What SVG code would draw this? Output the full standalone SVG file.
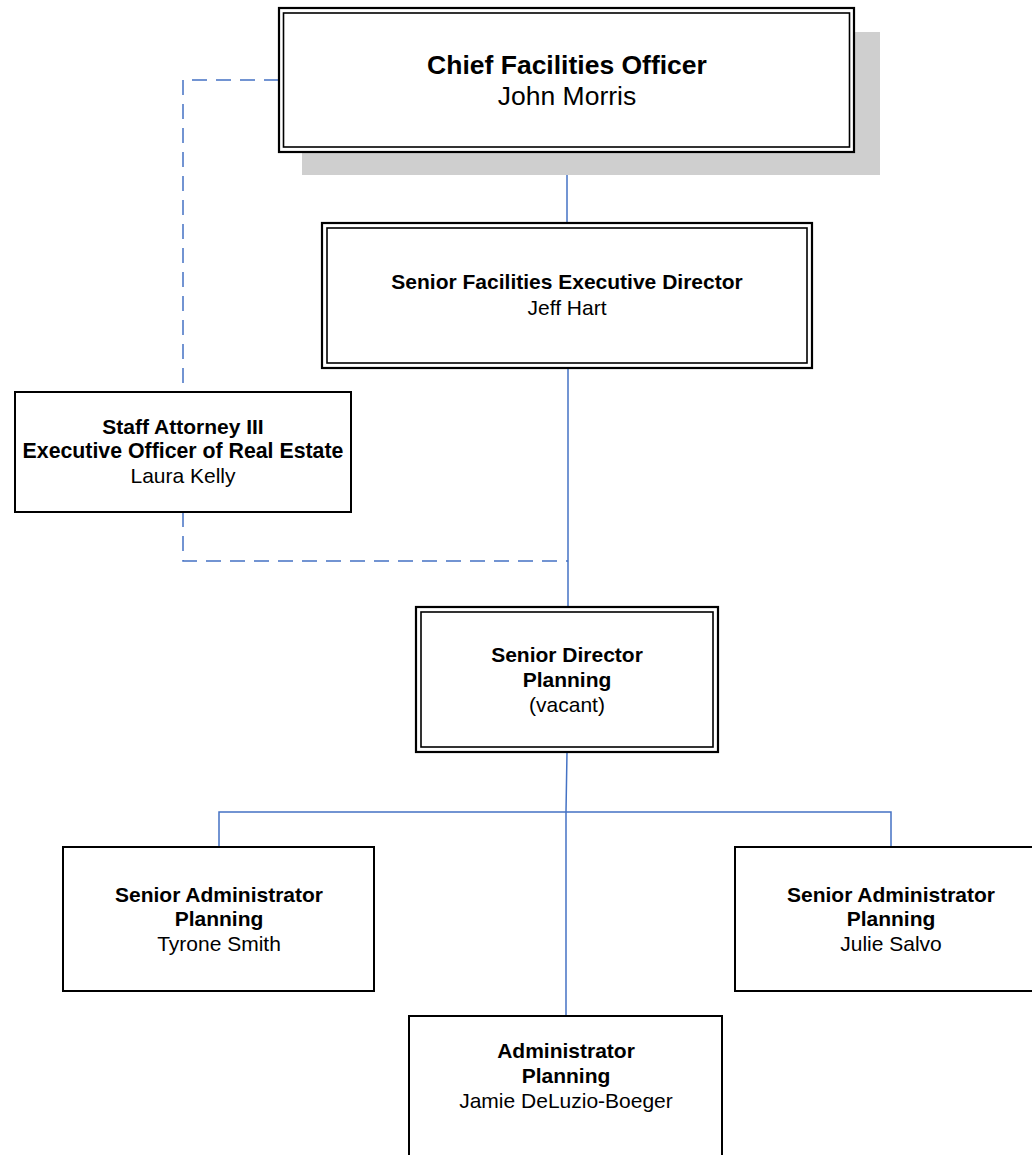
<svg xmlns="http://www.w3.org/2000/svg" width="1032" height="1155" viewBox="0 0 1032 1155">
  <style>
    .t { font-family: "Liberation Sans", Arial, sans-serif; fill: #000; text-anchor: middle; }
    .b { font-weight: bold; }
    .s21 { font-size: 21px; }
    .s26 { font-size: 26.5px; }
    .outer { fill: #fff; stroke: #000; stroke-width: 2.2; }
    .inner { fill: none; stroke: #000; stroke-width: 1.6; }
    .box { fill: #fff; stroke: #000; stroke-width: 2; }
    .solid { fill: none; stroke: #4472c4; stroke-width: 1.5; }
    .dash { fill: none; stroke: #4472c4; stroke-width: 1.5; stroke-dasharray: 15 9; }
  </style>
  <rect width="1032" height="1155" fill="#fff"/>
  <g id="connectors">
    <path class="solid" d="M567 152 V223"/>
    <path class="solid" d="M568 368 V607"/>
    <path class="dash" d="M279 80 H183 V392"/>
    <path class="dash" d="M183 512 V561 H568"/>
    <path class="solid" d="M567 752 L566 812 V1016"/>
    <path class="solid" d="M219 847 V812 H891 V847"/>
  </g>
  <g id="chief-facilities-officer">
    <rect x="302" y="32" width="578" height="143" fill="#cfcfcf"/>
    <rect class="outer" x="279" y="8" width="575" height="144"/>
    <rect class="inner" x="283.5" y="13" width="566" height="134"/>
    <text class="t b s26" x="567" y="74">Chief Facilities Officer</text>
    <text class="t s26" x="567" y="105">John Morris</text>
  </g>
  <g id="senior-facilities-executive-director">
    <rect class="outer" x="322" y="223" width="490" height="145"/>
    <rect class="inner" x="327" y="228" width="480" height="135"/>
    <text class="t b s21" x="567" y="289">Senior Facilities Executive Director</text>
    <text class="t s21" x="567" y="315">Jeff Hart</text>
  </g>
  <g id="staff-attorney">
    <rect class="box" x="15" y="392" width="336" height="120"/>
    <text class="t b s21" x="183" y="434">Staff Attorney III</text>
    <text class="t b s21" x="183" y="458" style="font-size:21.3px">Executive Officer of Real Estate</text>
    <text class="t s21" x="183" y="483">Laura Kelly</text>
  </g>
  <g id="senior-director-planning">
    <rect class="outer" x="416" y="607" width="302" height="145"/>
    <rect class="inner" x="421" y="612" width="292" height="135"/>
    <text class="t b s21" x="567" y="662">Senior Director</text>
    <text class="t b s21" x="567" y="687">Planning</text>
    <text class="t s21" x="567" y="712">(vacant)</text>
  </g>
  <g id="senior-administrator-tyrone">
    <rect class="box" x="63" y="847" width="311" height="144"/>
    <text class="t b s21" x="219" y="902">Senior Administrator</text>
    <text class="t b s21" x="219" y="926">Planning</text>
    <text class="t s21" x="219" y="951">Tyrone Smith</text>
  </g>
  <g id="senior-administrator-julie">
    <rect class="box" x="735" y="847" width="312" height="144"/>
    <text class="t b s21" x="891" y="902">Senior Administrator</text>
    <text class="t b s21" x="891" y="926">Planning</text>
    <text class="t s21" x="891" y="951">Julie Salvo</text>
  </g>
  <g id="administrator-planning">
    <rect class="box" x="409" y="1016" width="313" height="160"/>
    <text class="t b s21" x="566" y="1058">Administrator</text>
    <text class="t b s21" x="566" y="1083">Planning</text>
    <text class="t s21" x="566" y="1108">Jamie DeLuzio-Boeger</text>
  </g>
</svg>
